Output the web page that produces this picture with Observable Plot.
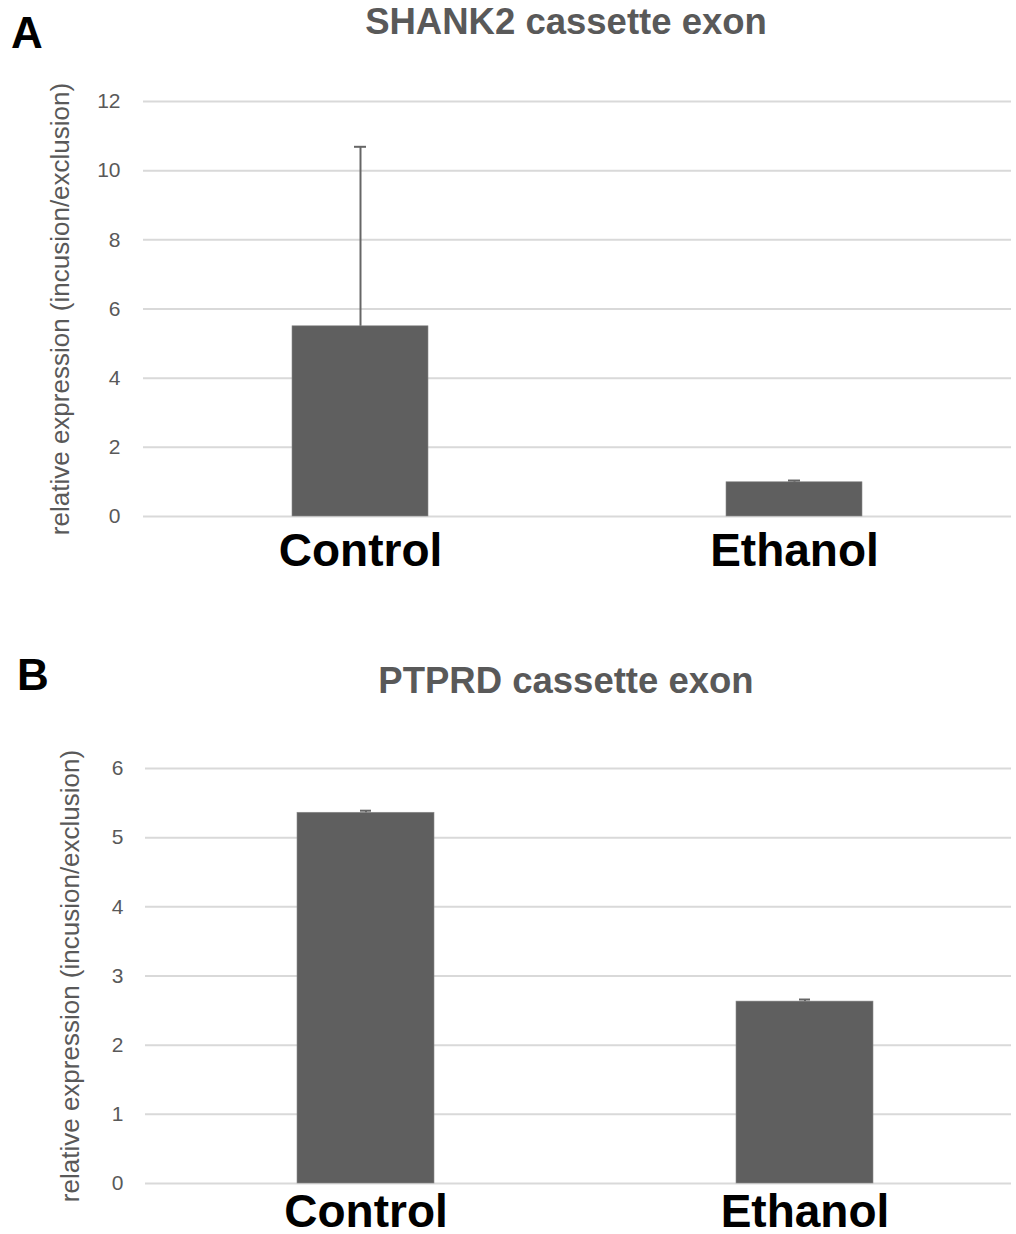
<!DOCTYPE html>
<html>
<head>
<meta charset="utf-8">
<script src="https://cdn.jsdelivr.net/npm/d3@7"></script>
<script src="https://cdn.jsdelivr.net/npm/@observablehq/plot@0.6"></script>
<style>
  html, body { margin: 0; padding: 0; background: #ffffff; }
  #root { position: relative; width: 1016px; height: 1234px; background: #ffffff; overflow: hidden;
          font-family: "Liberation Sans", Arial, sans-serif; }
  .abs { position: absolute; }
  .panel { font-weight: bold; color: #000; font-size: 44px; line-height: 44px; }
  .title { left: 0; width: 1132px; text-align: center; font-weight: bold; color: #595959;
           font-size: 36.5px; line-height: 40px; white-space: nowrap; }
</style>
</head>
<body>
<div id="root">
  <div class="abs panel" style="left:11px; top:11px;">A</div>
  <div class="abs title" style="top:2px;">SHANK2 cassette exon</div>
  <div id="chartA" class="abs" style="left:0; top:0;"></div>
  <div class="abs panel" style="left:17px; top:653px;">B</div>
  <div class="abs title" style="top:661px;">PTPRD cassette exon</div>
  <div id="chartB" class="abs" style="left:0; top:640px;"></div>
</div>
<script>
const categories = ["Control", "Ethanol"];
const shankMean = [5.50, 0.99];
const shankErr = [5.19, 0.05];
const ptprdMean = [5.36, 2.63];
const ptprdErr = [0.03, 0.03];
const shankTicks = [0, 2, 4, 6, 8, 10, 12];
const ptprdTicks = [0, 1, 2, 3, 4, 5, 6];
const yLabel = "relative expression (incusion/exclusion)";

function chart(o) {
  const data = categories.map((c, i) => ({cat: c, v: o.mean[i], hi: o.mean[i] + o.err[i]}));
  return Plot.plot({
    width: 1016,
    height: o.height,
    marginTop: o.marginTop,
    marginBottom: o.marginBottom,
    marginLeft: o.marginLeft,
    marginRight: 5,
    style: {fontFamily: "'Liberation Sans', Arial, sans-serif", background: "transparent", overflow: "visible"},
    x: {domain: categories, paddingInner: o.pi, paddingOuter: o.po, align: o.align, label: null},
    y: {domain: o.domain, label: null},
    marks: [
      Plot.ruleY(o.ticks, {stroke: "#d9d9d9", strokeWidth: 2}),
      Plot.barY(data, {x: "cat", y: "v", fill: "#5f5f5f", stroke: "#8a8a8a", strokeWidth: 0.6}),
      Plot.ruleX(data, {x: "cat", y1: "v", y2: "hi", stroke: "#666666", strokeWidth: 2}),
      Plot.tickY(data, {x: "cat", y: "hi", stroke: "#666666", strokeWidth: 2, insetLeft: o.capInset, insetRight: o.capInset}),
      Plot.axisY({ticks: o.ticks, tickFormat: d => String(d), tickSize: 0, tickPadding: o.yPad, fontSize: 21, color: "#595959", label: null}),
      Plot.axisX({tickSize: 0, tickPadding: o.xPad, fontSize: 46, fontWeight: "bold", color: "#000000", label: null}),
      Plot.text([yLabel], {text: d => d, frameAnchor: "left", dx: o.labelDx, rotate: -90, textAnchor: "middle",
                           lineAnchor: "middle", fontSize: 26, fill: "#595959"})
    ]
  });
}

document.getElementById("chartA").appendChild(chart({
  mean: shankMean, err: shankErr, ticks: shankTicks, domain: [0, 12],
  height: 600, marginTop: 101, marginBottom: 84, marginLeft: 143,
  pi: 0.6866, po: 0.3433, align: 0.5, capInset: 62, yPad: 23, xPad: 17, labelDx: -83
}));
document.getElementById("chartB").appendChild(chart({
  mean: ptprdMean, err: ptprdErr, ticks: ptprdTicks, domain: [0, 6],
  height: 594, marginTop: 128, marginBottom: 51, marginLeft: 145,
  pi: 0.687, po: 0.3277, align: 0.526, capInset: 63, yPad: 22, xPad: 11, labelDx: -75
}));
</script>
</body>
</html>
